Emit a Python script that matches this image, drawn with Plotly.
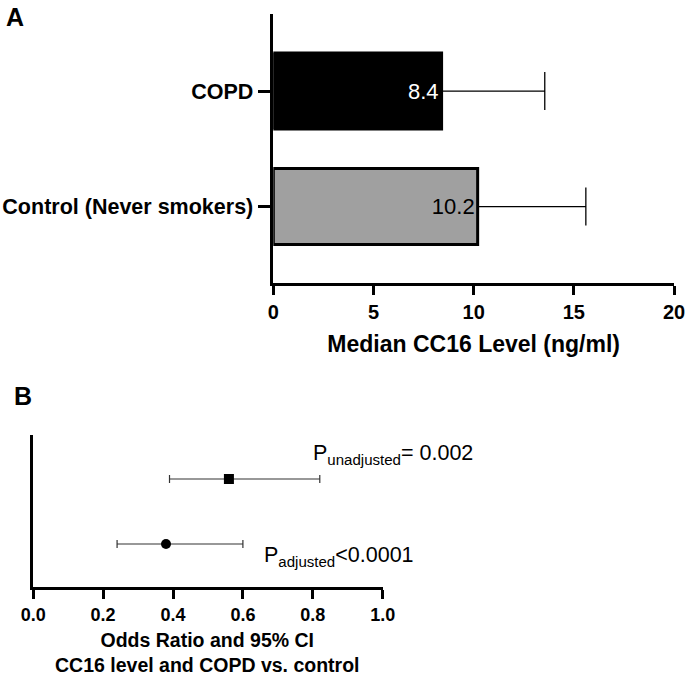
import plotly.graph_objects as go

# ---- Panel A data ----
categories = ["COPD", "Control (Never smokers)"]
median_cc16 = [8.4, 10.2]
cc16_err_upper = [5.15, 5.4]
bar_colors = ["#000000", "#a0a0a0"]
bar_text_colors = ["white", "black"]
xA_ticks = [0, 5, 10, 15, 20]

# ---- Panel B data ----
or_labels = ["Unadjusted", "Adjusted"]
odds_ratio = [0.56, 0.38]
ci_low = [0.39, 0.24]
ci_high = [0.82, 0.60]
or_symbols = ["square", "circle"]
p_labels = ["P<sub>unadjusted</sub>= 0.002", "P<sub>adjusted</sub>&lt;0.0001"]
xB_ticks = [0.0, 0.2, 0.4, 0.6, 0.8, 1.0]
xB_title = "Odds Ratio and 95% CI<br>CC16 level and COPD vs. control"

FONT = "Liberation Sans"
W, H = 685, 678

fig = go.Figure()

# Panel A bars
yA = [1, 0]
fig.add_trace(go.Bar(
    x=median_cc16, y=yA, orientation="h", width=0.658,
    marker=dict(color=bar_colors, line=dict(color="black", width=3)),
    text=[str(v) for v in median_cc16], textposition="inside",
    insidetextanchor="end", textangle=0,
    textfont=dict(family=FONT, size=22, color=bar_text_colors),
    error_x=dict(type="data", symmetric=False, array=cc16_err_upper,
                 arrayminus=[0, 0], color="black", thickness=1.3, width=19),
    xaxis="x", yaxis="y", showlegend=False, hoverinfo="x+y",
))

# Panel B forest points
yB = [1, 0]
fig.add_trace(go.Scatter(
    x=odds_ratio, y=yB, mode="markers",
    marker=dict(symbol=or_symbols, size=10, color="black"),
    error_x=dict(type="data", symmetric=False,
                 array=[h - o for h, o in zip(ci_high, odds_ratio)],
                 arrayminus=[o - l for o, l in zip(odds_ratio, ci_low)],
                 color="#333333", thickness=1.2, width=4),
    xaxis="x2", yaxis="y2", showlegend=False, text=or_labels,
))

bold = dict(color="black", weight="bold")

fig.update_layout(
    width=W, height=H, margin=dict(l=0, r=0, t=0, b=0),
    paper_bgcolor="white", plot_bgcolor="white",
    font=dict(family=FONT, color="black"),
    xaxis=dict(domain=[273.3 / W, 674 / W], range=[0, 20], tickvals=xA_ticks,
               automargin=False, ticklabeloverflow="allow",
               showline=True, linewidth=3, linecolor="black",
               ticks="outside", ticklen=9, tickwidth=2.5, tickcolor="black",
               tickfont=dict(family=FONT, size=20, **bold), showgrid=False, zeroline=False,
               anchor="y",
               title=dict(text="Median CC16 Level (ng/ml)",
                          font=dict(family=FONT, size=23, **bold), standoff=14)),
    yaxis=dict(domain=[1 - 283 / H, 1 - 14 / H], range=[-0.662, 1.667],
               automargin=False,
               tickvals=yA, ticktext=categories,
               showline=True, linewidth=2.5, linecolor="black",
               ticks="outside", ticklen=13, tickwidth=2.5, tickcolor="black",
               tickfont=dict(family=FONT, size=21.5, **bold), showgrid=False, zeroline=False,
               anchor="x"),
    xaxis2=dict(domain=[33.2 / W, 382.7 / W], range=[0, 1], tickvals=xB_ticks,
                tickformat=".1f", automargin=False,
                showline=True, linewidth=3, linecolor="black",
                ticks="outside", ticklen=9, tickwidth=2.5, tickcolor="black",
                tickfont=dict(family=FONT, size=18, **bold), showgrid=False, zeroline=False,
                anchor="y2"),
    yaxis2=dict(domain=[1 - 587 / H, 1 - 435 / H], range=[-0.662, 1.677],
                automargin=False,
                showticklabels=False, ticks="",
                showline=True, linewidth=2.5, linecolor="black",
                showgrid=False, zeroline=False, anchor="x2"),
    annotations=[
        dict(text="A", x=4 / W, y=1 - 1 / H, xref="paper", yref="paper",
             xanchor="left", yanchor="top", showarrow=False,
             font=dict(family=FONT, size=25, **bold)),
        dict(text="B", x=12 / W, y=1 - 380 / H, xref="paper", yref="paper",
             xanchor="left", yanchor="top", showarrow=False,
             font=dict(family=FONT, size=25, **bold)),
        dict(text=p_labels[0], x=0.795, y=1.38, xref="x2", yref="y2",
             xanchor="left", yanchor="middle", showarrow=False,
             font=dict(family=FONT, size=21.5, color="black")),
        dict(text=p_labels[1], x=0.655, y=-0.19, xref="x2", yref="y2",
             xanchor="left", yanchor="middle", showarrow=False,
             font=dict(family=FONT, size=21.5, color="black")),
        dict(text=xB_title, x=0.5, y=0, xref="x2 domain", yref="paper",
             xanchor="center", yanchor="bottom", showarrow=False,
             font=dict(family=FONT, size=19.5, **bold)),
    ],
)

fig.write_html("out.html", config={"displayModeBar": False},
               post_script="document.body.style.margin='0';document.body.style.overflow='hidden';")
